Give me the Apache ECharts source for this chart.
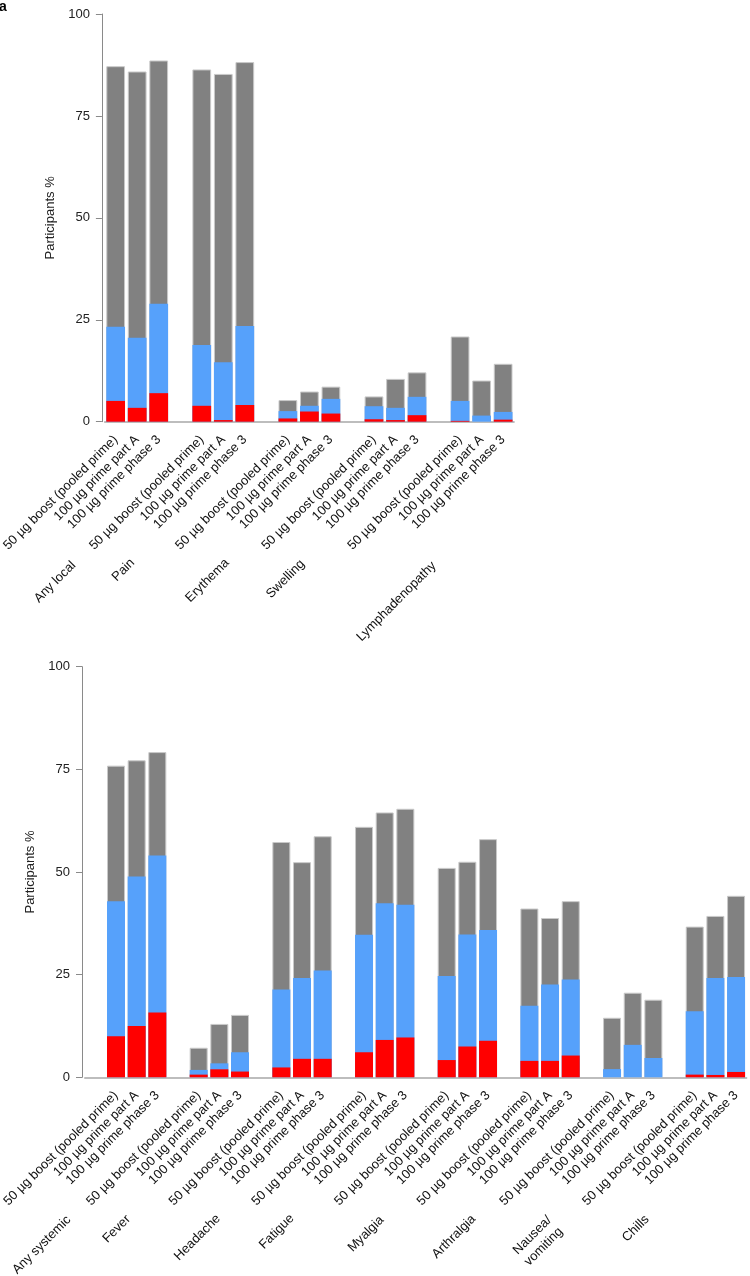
<!DOCTYPE html>
<html><head><meta charset="utf-8">
<script src="https://cdn.jsdelivr.net/npm/echarts@6/dist/echarts.min.js"></script>
<style>html,body{margin:0;padding:0;background:#fff}#c{width:750px;height:1276px}</style>
</head><body><div id="c"></div>
<script>
// ---- data ----
const doses = ['50 µg boost (pooled prime)', '100 µg prime part A', '100 µg prime phase 3'];
const localGroups = ['Any local', 'Pain', 'Erythema', 'Swelling', 'Lymphadenopathy'];
const localAnyGrade = [87.2, 85.9, 88.6, 86.4, 85.3, 88.2, 5.3, 7.4, 8.6, 6.2, 10.5, 12.1, 20.9, 10.1, 14.2];
const localGrade2 = [23.3, 20.6, 28.9, 18.8, 14.6, 23.5, 2.6, 3.9, 5.6, 3.8, 3.4, 6.1, 5.1, 1.5, 2.4];
const localGrade3 = [5.1, 3.4, 7.0, 3.9, 0.4, 4.1, 0.8, 2.5, 2.0, 0.6, 0.4, 1.6, 0.2, 0, 0.5];
const systemicGroups = ['Any systemic', 'Fever', 'Headache', 'Fatigue', 'Myalgia', 'Arthralgia', 'Nausea/\nvomiting', 'Chills'];
const systemicAnyGrade = [75.9, 77.2, 79.2, 7.2, 13.0, 15.2, 57.3, 52.4, 58.7, 61.0, 64.5, 65.4, 51.0, 52.5, 58.0, 41.1, 38.8, 42.9, 14.5, 20.6, 18.9, 36.7, 39.3, 44.2];
const systemicGrade2 = [42.9, 48.9, 54.0, 1.8, 3.4, 6.1, 21.4, 24.2, 26.0, 34.7, 42.4, 42.0, 24.7, 34.8, 35.9, 17.4, 22.6, 23.8, 2.0, 7.9, 4.7, 16.1, 24.2, 24.4];
const systemicGrade3 = [10.0, 12.5, 15.8, 0.65, 1.95, 1.4, 2.4, 4.5, 4.5, 6.1, 9.1, 9.7, 4.2, 7.5, 8.9, 4.0, 4.0, 5.3, 0, 0, 0, 0.65, 0.57, 1.3];
const yTicks = [0, 25, 50, 75, 100];

// ---- helpers: lay groups out with one empty slot between groups ----
function slotCategories(groupCount, leadingBlank) {
  const out = leadingBlank ? [''] : [];
  for (let g = 0; g < groupCount; g++) {
    if (g > 0) out.push('');
    doses.forEach(d => out.push(d));
  }
  return out;
}
function slotValues(values, groupCount, leadingBlank) {
  const out = leadingBlank ? ['-'] : [];
  for (let g = 0; g < groupCount; g++) {
    if (g > 0) out.push('-');
    for (let k = 0; k < 3; k++) out.push(values[g * 3 + k]);
  }
  return out;
}

const FONT = '"Liberation Sans", Arial, Helvetica, sans-serif';
const GRAY = '#818181', BLUE = '#56a1fb', RED = '#ff0000';

function xAxisFor(gridIndex, cats) {
  return {
    type: 'category', gridIndex, data: cats,
    axisLine: { show: true, lineStyle: { color: '#bdbdbd', width: 2 } },
    axisTick: { show: false },
    axisLabel: { interval: 0, rotate: 45, margin: 16, fontSize: 13, color: '#111', fontFamily: FONT }
  };
}
function yAxisFor(gridIndex) {
  return {
    type: 'value', gridIndex, min: yTicks[0], max: yTicks[yTicks.length - 1], interval: 25, offset: 3,
    splitLine: { show: false },
    axisLine: { show: true, lineStyle: { color: '#8a8a8a', width: 1 } },
    axisTick: { show: true, length: 6, lineStyle: { color: '#8a8a8a' } },
    axisLabel: { fontSize: 13, color: '#222', margin: 12, fontFamily: FONT },
    name: 'Participants %', nameLocation: 'middle', nameGap: 44,
    nameTextStyle: { fontSize: 13, color: '#222', fontFamily: FONT }
  };
}
function barSeries(name, color, data, idx, border) {
  return {
    name, type: 'bar', xAxisIndex: idx, yAxisIndex: idx, data,
    barWidth: '87%', barGap: '-100%', animation: false,
    itemStyle: { color, borderColor: border, borderWidth: border ? 1 : 0 }
  };
}

const nL = localGroups.length, nS = systemicGroups.length;

function groupLabel(text, x, y) {
  return {
    type: 'text', x, y, rotation: Math.PI / 4,
    style: { text, font: '13px ' + FONT, fill: '#111', textAlign: 'center', textVerticalAlign: 'middle', align: 'center', verticalAlign: 'middle', lineHeight: 16 }
  };
}

const option = {
  backgroundColor: '#fff',
  animation: false,
  grid: [
    { left: 104.9, top: 14, width: 409, height: 407.7, containLabel: false, outerBoundsMode: 'none' },
    { left: 85, top: 666.7, width: 661.4, height: 410.6, containLabel: false, outerBoundsMode: 'none' }
  ],
  xAxis: [xAxisFor(0, slotCategories(nL, false)), xAxisFor(1, slotCategories(nS, true))],
  yAxis: [yAxisFor(0), yAxisFor(1)],
  series: [
    barSeries('Any grade', GRAY, slotValues(localAnyGrade, nL, false), 0, '#c9c9c9'),
    barSeries('Grade 2', BLUE, slotValues(localGrade2, nL, false), 0, null),
    barSeries('Grade 3', RED, slotValues(localGrade3, nL, false), 0, null),
    barSeries('Any grade', GRAY, slotValues(systemicAnyGrade, nS, true), 1, '#c9c9c9'),
    barSeries('Grade 2', BLUE, slotValues(systemicGrade2, nS, true), 1, null),
    barSeries('Grade 3', RED, slotValues(systemicGrade3, nS, true), 1, null)
  ],
  graphic: [
    { type: 'text', x: -1, y: 0, style: { text: 'a', font: 'bold 14px ' + FONT, fill: '#000' } },
    groupLabel(localGroups[0], 55, 582),
    groupLabel(localGroups[1], 123.5, 570),
    groupLabel(localGroups[2], 207.5, 580.5),
    groupLabel(localGroups[3], 285.5, 579),
    groupLabel(localGroups[4], 396.5, 601.5),
    groupLabel(systemicGroups[0], 41.7, 1245),
    groupLabel(systemicGroups[1], 116.7, 1229),
    groupLabel(systemicGroups[2], 197.5, 1237.5),
    groupLabel(systemicGroups[3], 276.7, 1231.7),
    groupLabel(systemicGroups[4], 366, 1234),
    groupLabel(systemicGroups[5], 454, 1236.7),
    groupLabel(systemicGroups[6], 538, 1241),
    groupLabel(systemicGroups[7], 635.8, 1228.5)
  ]
};
echarts.init(document.getElementById('c'), null, { renderer: 'canvas' }).setOption(option);
</script>
</body></html>
